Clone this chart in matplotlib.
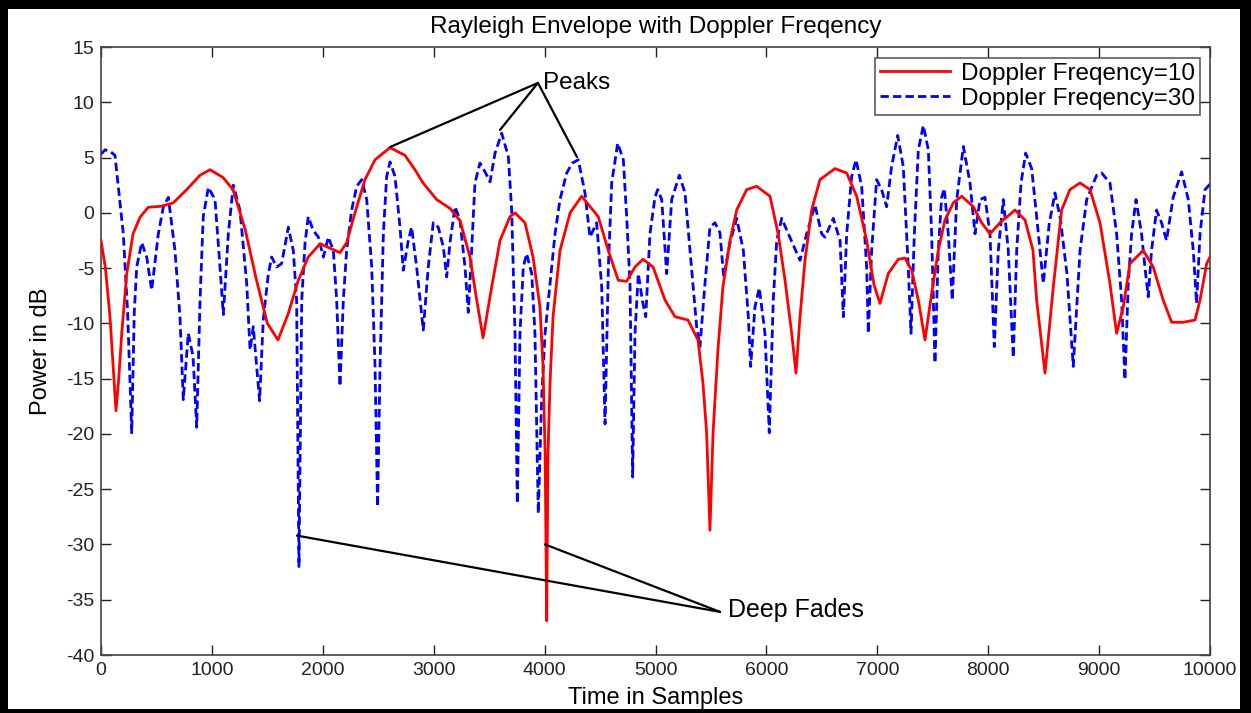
import matplotlib
matplotlib.use("Agg")
import matplotlib.pyplot as plt
from matplotlib.patches import Rectangle

# ---------------- data ----------------
red_x = [0, 40, 81, 110, 135, 160, 187, 232, 289, 352, 426, 547, 651, 773, 893, 983,
         1100, 1190, 1300, 1400, 1500, 1596, 1689, 1779, 1869, 1975, 2065, 2155, 2215,
         2290, 2380, 2471, 2606, 2741, 2831, 2904, 3027, 3147, 3237, 3327, 3388, 3445,
         3523, 3598, 3688, 3733, 3823, 3896, 3958, 3986, 4005, 4019, 4030, 4049, 4076,
         4139, 4230, 4334, 4484, 4574, 4664, 4740, 4815, 4888, 4978, 5086, 5176, 5293,
         5383, 5428, 5461, 5491, 5519, 5563, 5608, 5672, 5732, 5822, 5912, 6032, 6106,
         6168, 6228, 6267, 6303, 6348, 6408, 6483, 6618, 6724, 6814, 6904, 6970, 7024,
         7099, 7189, 7250, 7310, 7370, 7430, 7490, 7550, 7610, 7685, 7761, 7866, 7941,
         8016, 8106, 8242, 8332, 8404, 8437, 8512, 8587, 8662, 8737, 8828, 8918, 9008,
         9098, 9158, 9218, 9278, 9398, 9488, 9578, 9654, 9759, 9865, 9910, 9970, 10000]
red_y = [-2.5, -5, -9.4, -14, -17.9, -15, -10.9, -5.5, -1.9, -0.4, 0.5, 0.6, 0.9, 2.1, 3.4, 3.9,
         3.2, 2.1, -1.5, -6, -10, -11.5, -9.1, -6.1, -4.0, -2.8, -3.2, -3.6, -2.7,
         0, 3.0, 4.8, 5.9, 5.2, 3.9, 2.7, 1.2, 0.4, -0.7, -4.0, -7.9, -11.3,
         -6.7, -2.5, -0.35, 0, -0.9, -4.0, -8.5, -13.9, -22, -36.9, -22, -15.4, -9.4,
         -3.4, 0, 1.5, -0.35, -3.4, -6.1, -6.2, -4.9, -4.2, -4.9, -7.9, -9.4, -9.7,
         -11.5, -15.4, -19.9, -28.7, -19.9, -12.4, -6.7, -2.5, 0.25, 2.1, 2.4, 1.5, -1.9,
         -6.1, -10.9, -14.5, -9.4, -4.3, 0.25, 3.0, 4.0, 3.6, 1.5, -2.5, -6.5, -8.2,
         -5.5, -4.2, -4.1, -5.2, -7.9, -11.5, -7.3, -3.4, -0.65, 0.9, 1.5, 0.55, -0.9,
         -1.9, -0.9, 0.25, -0.65, -3.4, -7.9, -14.5, -6.7, 0.25, 2.1, 2.7, 2.1, -0.9,
         -6.4, -10.9, -8.5, -4.6, -3.4, -4.9, -7.9, -9.9, -9.9, -9.7, -7.9, -4.6, -4]

blue_x = [0, 36, 90, 126, 160, 201, 240, 277, 300, 322, 367, 412, 457, 517, 562, 607,
          667, 712, 742, 787, 830, 863, 893, 922, 968, 1028, 1073, 1103, 1148, 1193,
          1253, 1314, 1344, 1373, 1400, 1430, 1463, 1509, 1539, 1584, 1629, 1689, 1734,
          1764, 1785, 1810, 1840, 1869, 1914, 1960, 2005, 2050, 2095, 2125, 2155, 2185,
          2215, 2260, 2306, 2351, 2396, 2441, 2471, 2494, 2516, 2546, 2576, 2606, 2651,
          2696, 2726, 2771, 2801, 2846, 2906, 2951, 2996, 3041, 3087, 3117, 3147, 3192,
          3237, 3282, 3312, 3342, 3372, 3417, 3463, 3508, 3553, 3613, 3673, 3703, 3733,
          3754, 3778, 3808, 3838, 3884, 3913, 3943, 3973, 4004, 4049, 4094, 4139, 4199,
          4250, 4304, 4364, 4409, 4469, 4515, 4545, 4575, 4605, 4659, 4710, 4740, 4770,
          4794, 4815, 4845, 4881, 4912, 4950, 4995, 5020, 5056, 5101, 5146, 5215, 5266,
          5311, 5371, 5401, 5446, 5491, 5536, 5581, 5615, 5672, 5732, 5792, 5837, 5858,
          5897, 5936, 5987, 6026, 6062, 6093, 6138, 6198, 6303, 6363, 6438, 6498, 6528,
          6603, 6664, 6694, 6724, 6769, 6808, 6859, 6904, 6919, 6949, 6994, 7039, 7084,
          7129, 7184, 7234, 7279, 7304, 7334, 7370, 7415, 7460, 7490, 7520, 7550, 7580,
          7604, 7640, 7676, 7716, 7776, 7836, 7881, 7926, 7971, 8016, 8055, 8091, 8136,
          8181, 8226, 8257, 8296, 8338, 8392, 8437, 8497, 8550, 8602, 8650, 8710, 8767,
          8828, 8888, 8978, 9023, 9098, 9158, 9203, 9233, 9263, 9293, 9333, 9383, 9413,
          9443, 9473, 9518, 9563, 9608, 9668, 9744, 9804, 9849, 9879, 9910, 9955, 10000]
blue_y = [5.3, 5.7, 5.5, 5.2, 2, -1.9, -9, -19.9, -9, -4.9, -2.7, -4.0, -7.0, -1.9, 0.55, 1.4,
          -3.4, -9.4, -16.9, -10.9, -13, -19.4, -7.9, -0.35, 2.3, 1.2, -4.9, -9.2, -1.9, 2.5,
          0.25, -6.4, -12.4, -10.3, -13.5, -17, -9.7, -5.5, -4.0, -4.9, -4.6, -1.3, -3.4,
          -7.9, -32.0, -7.9, -2.7, -0.35, -1.6, -2.2, -4.0, -2.2, -3.4, -7.9, -15.7, -7.9,
          -3.4, 0.25, 2.4, 3.0, 1.2, -4.9, -13.9, -26.6, -13.9, -1.9, 3.3, 4.6, 3.3,
          -1.3, -5.2, -2.5, -1.3, -4.9, -10.6, -4.9, -0.9, -1.3, -3.1, -5.8, -2.7, 0.55,
          -0.65, -4.9, -9.0, -3.4, 2.7, 4.5, 3.7, 2.8, 5.4, 7.2, 5.1, 0.25, -10.9,
          -26.3, -10.9, -4.9, -3.7, -5.5, -10.9, -27.2, -16.9, -10.9, -6.4, -1.9, 1.2, 3.6,
          4.5, 4.8, 1.8, -2.2, -0.9, -6.7, -19.1, -4.9, 2.7, 6.3, 4.8, -0.35, -6.4,
          -23.9, -10.9, -5.5, -7.9, -9.4, -1.9, 1.4, 2.1, 1.2, -5.5, 1.2, 3.4, 1.8,
          -3.4, -10.3, -12.1, -6.4, -1.3, -0.9, -1.8, -5.8, -2.7, -0.5, -3.4, -9.4, -13.9,
          -8.5, -6.8, -10.9, -19.9, -7.9, -2.5, -0.5, -1.9, -4.3, -1.9, 0.7, -1.9, -2.2,
          -0.5, -2.5, -9.4, -1.9, 3.3, 4.8, 2.4, -4.9, -10.9, -3.4, 3.0, 2.1, 0.55,
          4.2, 7.0, 4.2, -4.9, -10.9, -1.9, 5.7, 7.9, 5.7, -1.9, -13.6, -3.4, 1.4,
          2.2, -1.9, -7.9, 1.2, 6.0, 2.7, -1.9, 1.2, 1.4, -1.9, -12.1, -3.4, 1.2,
          -3.4, -13.1, -3.4, 2.7, 5.4, 4.0, -0.35, -6.4, -1.0, 1.8, -0.5, -5.5, -13.9,
          -3.4, 1.2, 3.4, 3.6, 2.7, -1.9, -7.9, -15.1, -6.4, -1.9, 1.2, -1.9, -4.9,
          -7.6, -3.4, 0.25, -0.9, -2.5, 1.4, 3.7, 1.2, -3.4, -8.2, -1.9, 2.1, 2.6]

series_labels = ["Doppler Freqency=10", "Doppler Freqency=30"]
x_ticks = list(range(0, 10001, 1000))
y_ticks = list(range(-40, 16, 5))

# ---------------- figure ----------------
FONT = ["Liberation Sans", "DejaVu Sans"]
plt.rcParams["font.family"] = FONT
plt.rcParams["axes.unicode_minus"] = False

W, H = 1251, 713
fig = plt.figure(figsize=(W / 100, H / 100), dpi=100, facecolor="black")
bg = Rectangle((8 / W, 4 / H), (1240 - 8) / W, (704 - 4) / H,
               transform=fig.transFigure, facecolor="white", edgecolor="none")
bg.set_zorder(-10)
fig.add_artist(bg)

ax = fig.add_axes([101 / W, 1 - 655 / H, (1210 - 101) / W, (655 - 47) / H])
ax.set_zorder(1)
ax.set_facecolor("white")

ax.plot(red_x, red_y, color="#ff0000", lw=2.0, ls="-", label=series_labels[0], zorder=3)
ax.plot(blue_x, blue_y, color="#0000ff", lw=2.0, ls=(0, (3, 1.5)), label=series_labels[1], zorder=2)

ax.set_xlim(0, 10000)
ax.set_ylim(-40, 15)
ax.set_xticks(x_ticks)
ax.set_yticks(y_ticks)
ax.tick_params(direction="in", length=7, width=1, top=True, right=True,
               labelsize=14, colors="#222222", pad=5)
for s in ax.spines.values():
    s.set_color("#444444")
    s.set_linewidth(1.2)

ax.set_title("Rayleigh Envelope with Doppler Freqency", fontsize=17.5, pad=10)
ax.set_xlabel("Time in Samples", fontsize=17, labelpad=6)
ax.set_ylabel("Power in dB", fontsize=17, labelpad=10)

leg = ax.legend(loc="upper right", bbox_to_anchor=(0.991, 0.982), borderaxespad=0,
                fontsize=17.5, frameon=True, fancybox=False, handlelength=2.9,
                borderpad=0.2, labelspacing=0.12, handletextpad=0.45)
leg.get_frame().set_edgecolor("#333333")
leg.get_frame().set_linewidth(1.2)

# annotations
peak_src = (3940, 11.75)
for tgt in [(2606, 5.95), (3598, 7.5), (4292, 5.05)]:
    ax.annotate("", xy=tgt, xytext=peak_src,
                arrowprops=dict(arrowstyle="-", color="black", lw=1.6,
                                shrinkA=0, shrinkB=0))
ax.text(3985, 11.75, "Peaks", fontsize=17.5, ha="left", va="center")

fade_src = (5582, -36.1)
for tgt in [(1767, -29.2), (4004, -30.0)]:
    ax.annotate("", xy=tgt, xytext=fade_src,
                arrowprops=dict(arrowstyle="-", color="black", lw=1.6,
                                shrinkA=0, shrinkB=0))
ax.text(5650, -35.9, "Deep Fades", fontsize=18, ha="left", va="center")

fig.savefig("out.png", dpi=100, facecolor=fig.get_facecolor())
